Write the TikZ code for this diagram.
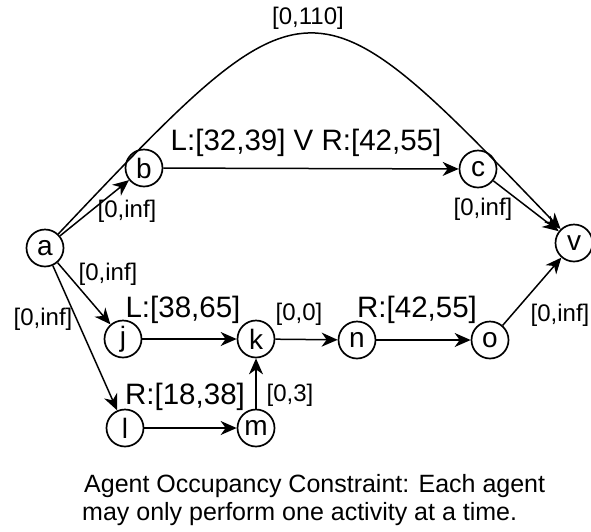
\documentclass[tikz,border=0pt]{standalone}
\usepackage{fontspec}
\setmainfont{Liberation Sans}
\usetikzlibrary{arrows.meta}
\begin{document}
\begin{tikzpicture}[x=1pt,y=-1pt,
  vertex/.style={circle,draw,line width=1.7pt,minimum size=37pt,inner sep=0pt,
    font=\fontsize{28}{28}\selectfont},
  edge/.style={line width=1.5pt,-{Stealth[length=16pt,width=14pt,inset=5pt]}},
  small/.style={inner sep=0pt,font=\fontsize{24}{24}\selectfont},
  big/.style={inner sep=0pt,font=\fontsize{29.5}{29.5}\selectfont},
  note/.style={inner sep=0pt,anchor=base west,font=\fontsize{25}{28}\selectfont}]
\useasboundingbox (0,0) rectangle (591,531);

% activities / events
\node[vertex] (a) at (45,248) {a};
\node[vertex] (b) at (144,168) {b};
\node[vertex] (c) at (478,169) {c};
\node[vertex] (v) at (574,243) {v};
\node[vertex] (j) at (123,339) {j};
\node[vertex] (k) at (256,339) {k};
\node[vertex] (n) at (357,340) {n};
\node[vertex] (o) at (490,340) {o};
\node[vertex] (l) at (125,428) {l};
\node[vertex] (m) at (256,428) {m};

% temporal constraints
\draw[edge] (a) .. controls (310,-32) and (310,-32) .. (v);
\draw[edge] (a) -- (b);
\draw[edge] (b) -- (c);
\draw[edge] (c) -- (v);
\draw[edge] (a) -- (j);
\draw[edge] (a) -- (l);
\draw[edge] (j) -- (k);
\draw[edge] (k) -- (n);
\draw[edge] (n) -- (o);
\draw[edge] (o) -- (v);
\draw[edge] (l) -- (m);
\draw[edge] (m) -- (k);

% interval labels
\node[small] (lav) at (308,18) {[0,110]};
\node[big] (lbc) at (306,143) {L:[32,39] V R:[42,55]};
\node[small] (lab) at (127,211) {[0,inf]};
\node[small] (lcv) at (483,209) {[0,inf]};
\node[small] (laj) at (108,274) {[0,inf]};
\node[small] (lal) at (43,319) {[0,inf]};
\node[big] (ljk) at (183,310) {L:[38,65]};
\node[small] (lkn) at (299,314) {[0,0]};
\node[big] (lno) at (417,310) {R:[42,55]};
\node[small] (lov) at (560,315) {[0,inf]};
\node[big] (llm) at (185,397) {R:[18,38]};
\node[small] (lmk) at (290,395) {[0,3]};

% caption
\node[note] (cap1) at (84,492) {Agent Occupancy Constraint: Each agent};
\node[note] (cap2) at (82,520) {may only perform one activity at a time.};
\end{tikzpicture}
\end{document}
